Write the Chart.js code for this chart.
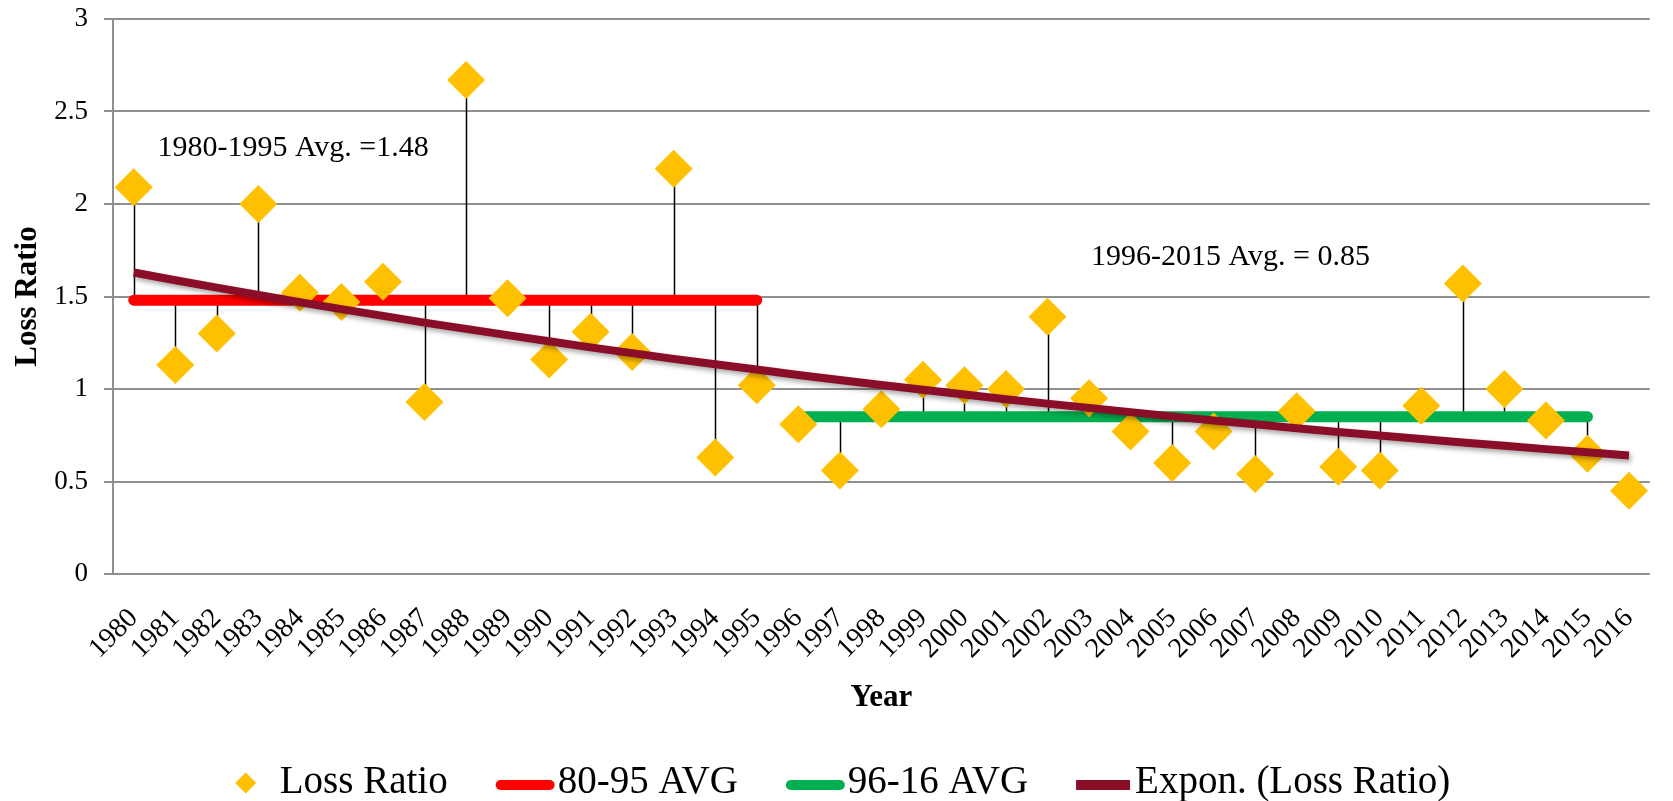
<!DOCTYPE html>
<html>
<head>
<meta charset="utf-8">
<title>Loss Ratio</title>
<script src="https://cdn.jsdelivr.net/npm/chart.js@4.4.1/dist/chart.umd.min.js"></script>
<style>
  html, body { margin:0; padding:0; background:#fff; }
  #wrap { width:1673px; height:801px; }
</style>
</head>
<body>
<div id="wrap"><canvas id="lossChart"></canvas></div>
<script>
const YEARS = ['1980','1981','1982','1983','1984','1985','1986','1987','1988','1989',
  '1990','1991','1992','1993','1994','1995','1996','1997','1998','1999',
  '2000','2001','2002','2003','2004','2005','2006','2007','2008','2009',
  '2010','2011','2012','2013','2014','2015','2016'];
const LOSS_RATIO = [2.09,1.13,1.30,2.00,1.52,1.47,1.58,0.93,2.67,1.49,
  1.16,1.31,1.20,2.19,0.63,1.02,0.81,0.56,0.89,1.05,
  1.02,1.00,1.39,0.95,0.77,0.60,0.77,0.54,0.88,0.58,
  0.56,0.91,1.57,1.00,0.83,0.65,0.45];
// exponential trend line
const TREND = [1.630,1.588,1.548,1.508,1.469,1.432,1.395,1.359,1.325,1.291,
  1.258,1.225,1.194,1.163,1.134,1.105,1.076,1.049,1.022,0.996,
  0.970,0.945,0.921,0.898,0.875,0.852,0.830,0.809,0.788,0.768,
  0.749,0.730,0.711,0.693,0.675,0.658,0.641];
const AVG_LABELS = ['80-95 AVG','96-16 AVG'];
const AVG_VALUES = [1.48, 0.85];
const AVG_FROM = ['1980','1996'];
const AVG_TO = ['1995','2015'];
const NOTES = ['1980-1995 Avg. =1.48','1996-2015 Avg. = 0.85'];
const NOTE_X = [0.57, 23.05];   // category index of the text's left edge
const NOTE_Y = [2.30, 1.715];

const FONT = "'Liberation Serif', 'Times New Roman', serif";
const GRID = '#8f8f8f';

function byId(id){ return document.getElementById(id); }

// thin black drops from each point to its period average
const stemsPlugin = {
  id: 'stems',
  beforeDatasetsDraw(chart){
    const {ctx, scales:{x, y}} = chart;
    ctx.save();
    ctx.strokeStyle = '#000';
    ctx.lineWidth = 1.5;
    AVG_VALUES.forEach((avg, k)=>{
      const a = YEARS.indexOf(AVG_FROM[k]), b = YEARS.indexOf(AVG_TO[k]);
      for(let i=a;i<=b;i++){
        const px = Math.round(x.getPixelForValue(i)) + 0.5;
        ctx.beginPath();
        ctx.moveTo(px, y.getPixelForValue(LOSS_RATIO[i]));
        ctx.lineTo(px, y.getPixelForValue(avg));
        ctx.stroke();
      }
    });
    ctx.restore();
  }
};

// drop shadow under the trend line
const shadowPlugin = {
  id: 'trendShadow',
  beforeDatasetDraw(chart, args){
    if(chart.data.datasets[args.index].label.indexOf('Expon') !== 0) return;
    const ctx = chart.ctx;
    ctx.save();
    ctx.shadowColor = 'rgba(0,0,0,0.35)';
    ctx.shadowBlur = 5;
    ctx.shadowOffsetX = 2;
    ctx.shadowOffsetY = 3;
  },
  afterDatasetDraw(chart, args){
    if(chart.data.datasets[args.index].label.indexOf('Expon') !== 0) return;
    chart.ctx.restore();
  }
};

const notesPlugin = {
  id: 'notes',
  afterDatasetsDraw(chart){
    const {ctx, scales:{x, y}} = chart;
    ctx.save();
    ctx.font = `30px ${FONT}`;
    ctx.fillStyle = '#000';
    ctx.textAlign = 'left';
    ctx.textBaseline = 'middle';
    NOTES.forEach((t, i)=> ctx.fillText(t, x.getPixelForValue(NOTE_X[i]), y.getPixelForValue(NOTE_Y[i])));
    ctx.restore();
  }
};

const legendPlugin = {
  id: 'bottomLegend',
  afterDraw(chart){
    const ctx = chart.ctx;
    ctx.save();
    ctx.font = `39px ${FONT}`;
    const gap = 48;
    const items = chart.data.datasets.map(ds => {
      const mark = ds.showLine === false ? 45 : (ds.borderCapStyle === 'round' ? 62 : 59);
      return { ds, mark, w: ctx.measureText(ds.label).width };
    });
    const total = items.reduce((s, it)=> s + it.mark + it.w, 0) + gap*(items.length-1);
    let x = chart.width/2 - total/2 + 6;
    const y = chart.height - 18;
    items.forEach(it=>{
      const ds = it.ds;
      if(ds.showLine === false){
        const cx = x + 11, r = 10.5;
        ctx.fillStyle = ds.backgroundColor;
        ctx.beginPath();
        ctx.moveTo(cx - r, y); ctx.lineTo(cx, y - r); ctx.lineTo(cx + r, y); ctx.lineTo(cx, y + r);
        ctx.closePath(); ctx.fill();
      } else if(ds.borderCapStyle === 'round'){
        ctx.strokeStyle = ds.borderColor; ctx.lineWidth = 10; ctx.lineCap = 'round';
        ctx.beginPath(); ctx.moveTo(x + 5, y + 2); ctx.lineTo(x + 54, y + 2); ctx.stroke();
      } else {
        ctx.strokeStyle = ds.borderColor; ctx.lineWidth = 10; ctx.lineCap = 'butt';
        ctx.beginPath(); ctx.moveTo(x, y + 2); ctx.lineTo(x + 54, y + 2); ctx.stroke();
      }
      ctx.fillStyle = '#000';
      ctx.textAlign = 'left';
      ctx.textBaseline = 'middle';
      ctx.fillText(ds.label, x + it.mark, y);
      x += it.mark + it.w + gap;
    });
    ctx.restore();
  }
};

function avgData(k){
  return [{x: AVG_FROM[k], y: AVG_VALUES[k]}, {x: AVG_TO[k], y: AVG_VALUES[k]}];
}

document.addEventListener('DOMContentLoaded', ()=>{
  const ctx = byId('lossChart').getContext('2d');
  new Chart(ctx, {
    type: 'line',
    data: {
      labels: YEARS,
      datasets: [
        { label: 'Loss Ratio', data: LOSS_RATIO, showLine: false, order: 1,
          pointStyle: 'rectRot', pointRadius: 19, pointHoverRadius: 19,
          backgroundColor: '#FFC000', borderColor: '#FFC000', pointBorderWidth: 0 },
        { label: AVG_LABELS[0], data: avgData(0), order: 2, borderColor: '#FF0000', backgroundColor: '#FF0000',
          borderWidth: 11, borderCapStyle: 'round', pointRadius: 0 },
        { label: AVG_LABELS[1], data: avgData(1), order: 2, borderColor: '#00B050', backgroundColor: '#00B050',
          borderWidth: 11, borderCapStyle: 'round', pointRadius: 0 },
        { label: 'Expon. (Loss Ratio)', data: TREND, order: 0, borderColor: '#8A0E27', backgroundColor: '#8A0E27',
          borderWidth: 8, borderCapStyle: 'butt', pointRadius: 0 }
      ]
    },
    options: {
      responsive: true,
      maintainAspectRatio: false,
      animation: false,
      layout: { padding: { top: 19, right: 8, bottom: 70, left: 0 } },
      plugins: { legend: { display: false }, tooltip: { enabled: false } },
      scales: {
        x: {
          type: 'category',
          offset: true,
          grid: { display: false },
          border: { display: false },
          ticks: { color: '#000', font: { family: FONT, size: 28 }, minRotation: 45, maxRotation: 45,
                   autoSkip: false, padding: 20 },
          title: { display: true, text: 'Year', color: '#000', font: { family: FONT, size: 31, weight: 'bold' },
                   padding: { top: 0, bottom: 14 } },
          afterFit(scale){ scale.height = 157; }
        },
        y: {
          min: 0, max: 3,
          ticks: { stepSize: 0.5, color: '#000', font: { family: FONT, size: 27 }, padding: 16,
                   callback: v => String(v) },
          grid: { color: GRID, lineWidth: 2, tickLength: 9 },
          border: { color: GRID, width: 2 },
          title: { display: true, text: 'Loss Ratio', color: '#000', font: { family: FONT, size: 31, weight: 'bold' },
                   padding: { top: 9, bottom: 0 } },
          afterFit(scale){ scale.width = 113; scale.paddingTop = 0; scale.paddingBottom = 0; }
        }
      }
    },
    plugins: [stemsPlugin, shadowPlugin, notesPlugin, legendPlugin]
  });
});
</script>
</body>
</html>
